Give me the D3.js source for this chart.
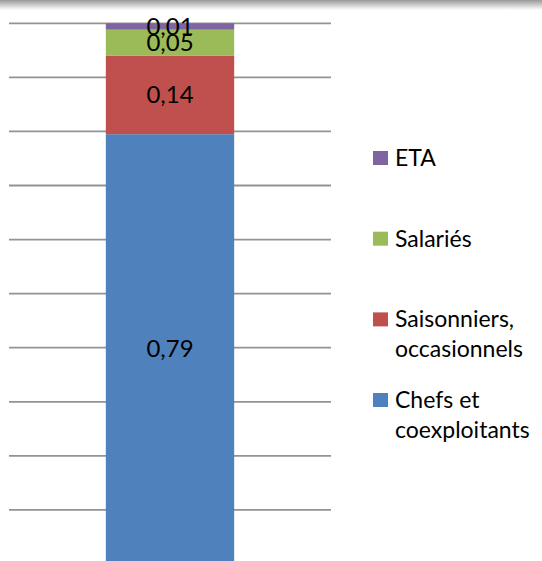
<!DOCTYPE html>
<meta charset="utf-8">
<html>
<head>
<script src="https://d3js.org/d3.v7.min.js" charset="utf-8"></script>
<style>
body { margin: 0; background: #fff; }
svg { display: block; font-family: Lato, "Open Sans", sans-serif; }
</style>
</head>
<body>
<svg width="542" height="561"></svg>
<script>
// data (shares of workforce, single stacked column)
var categories = ["Chefs et coexploitants", "Saisonniers, occasionnels", "Salariés", "ETA"];
var values = [0.7949, 0.1449, 0.0484, 0.0118];
var colors = ["#4F81BD", "#C0504D", "#9BBB59", "#8064A2"];
var legendLines = [["Chefs et", "coexploitants"], ["Saisonniers,", "occasionnels"], ["Salariés"], ["ETA"]];
var gridTicks = [0.1, 0.2, 0.3, 0.4, 0.5, 0.6, 0.7, 0.8, 0.9, 1.0];

var svg = d3.select("svg");

// faint shadow band along the top edge
var grad = svg.append("defs").append("linearGradient")
    .attr("id", "topshade").attr("x1", 0).attr("y1", 0).attr("x2", 0).attr("y2", 1);
grad.append("stop").attr("offset", "0%").attr("stop-color", "#9a9a9a");
grad.append("stop").attr("offset", "100%").attr("stop-color", "#ffffff");
svg.append("rect").attr("x", 0).attr("y", 0).attr("width", 542).attr("height", 10)
    .attr("fill", "url(#topshade)");

var x = d3.scaleBand()
    .domain(["all"])
    .range([9, 331])
    .paddingInner(0.43)
    .paddingOuter(0.43);

var y = d3.scaleLinear()
    .domain([0, 1])
    .range([564, 23.3]);

// gridlines
svg.append("g").selectAll("line")
  .data(gridTicks)
  .enter().append("line")
    .attr("x1", 9).attr("x2", 331)
    .attr("y1", function(d) { return y(d); })
    .attr("y2", function(d) { return y(d); })
    .attr("stroke", "#939393")
    .attr("stroke-width", 1.8);

// stack
var stacked = [];
var acc = 0;
values.forEach(function(v, i) {
  stacked.push({name: categories[i], v: v, y0: acc, y1: acc + v, color: colors[i]});
  acc += v;
});

svg.append("g").selectAll("rect")
  .data(stacked)
  .enter().append("rect")
    .attr("x", x("all"))
    .attr("width", x.bandwidth())
    .attr("y", function(d) { return y(d.y1); })
    .attr("height", function(d) { return y(d.y0) - y(d.y1); })
    .attr("fill", function(d) { return d.color; });

var fr = d3.formatLocale({decimal: ",", thousands: " ", grouping: [3], currency: ["", "€"]}).format(".2f");

svg.append("g").selectAll("text")
  .data(stacked)
  .enter().append("text")
    .attr("x", x("all") + x.bandwidth() / 2)
    .attr("y", function(d) { return (y(d.y0) + y(d.y1)) / 2; })
    .attr("dy", "0.35em")
    .attr("text-anchor", "middle")
    .attr("font-size", 24)
    .attr("fill", "#000")
    .text(function(d) { return fr(d.v); });

// legend, top entry is last series
var legendY = [400, 319.4, 238.7, 158];
var leg = svg.append("g").selectAll("g")
  .data(stacked)
  .enter().append("g")
    .attr("transform", function(d, i) { return "translate(373," + legendY[i] + ")"; });

leg.append("rect")
    .attr("x", 0).attr("y", -7)
    .attr("width", 15).attr("height", 14)
    .attr("fill", function(d) { return d.color; });

leg.each(function(d, i) {
  var t = d3.select(this).append("text")
      .attr("x", 22)
      .attr("font-size", 23)
      .attr("fill", "#000");
  legendLines[i].forEach(function(line, j) {
    t.append("tspan").attr("x", 22).attr("y", j * 30).attr("dy", "0.35em").text(line);
  });
});
</script>
</body>
</html>
